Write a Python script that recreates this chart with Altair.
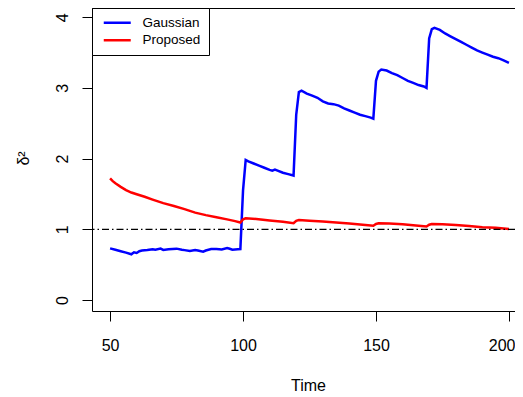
import altair as alt
import pandas as pd

# ---- data ----
gauss_t = [50, 52, 54, 56, 58, 59, 60, 61, 62, 64, 66, 67, 69, 70, 72, 75, 77, 78, 80, 82, 83, 85, 86, 88, 90, 92, 94, 95, 96, 98, 99,
           100, 101, 102, 104, 106, 108, 110, 111, 112, 113, 115, 117, 119,
           120, 121, 122, 124, 126, 128, 130, 132, 134, 136, 138, 140, 142, 144, 146, 148, 149,
           150, 151, 152, 154, 156, 158, 160, 162, 164, 166, 168, 169,
           170, 171, 172, 174, 176, 178, 180, 182, 184, 186, 188, 190, 192, 194, 196, 198, 200]
gauss_v = [0.73, 0.71, 0.69, 0.67, 0.646, 0.674, 0.665, 0.69, 0.70, 0.707, 0.717, 0.71, 0.726, 0.707, 0.717, 0.726, 0.71, 0.705, 0.693, 0.707, 0.70, 0.684, 0.70, 0.721, 0.721, 0.715, 0.735, 0.725, 0.712, 0.717, 0.72,
           1.55, 1.98, 1.96, 1.93, 1.90, 1.87, 1.84, 1.83, 1.845, 1.83, 1.80, 1.78, 1.76,
           2.62, 2.94, 2.96, 2.92, 2.89, 2.86, 2.81, 2.78, 2.77, 2.75, 2.71, 2.68, 2.65, 2.62, 2.60, 2.58, 2.565,
           3.10, 3.23, 3.26, 3.245, 3.21, 3.18, 3.14, 3.10, 3.07, 3.04, 3.02, 3.00,
           3.70, 3.83, 3.85, 3.82, 3.77, 3.73, 3.69, 3.65, 3.61, 3.57, 3.53, 3.50, 3.47, 3.44, 3.42, 3.39, 3.355]

prop_t = [50, 51, 52, 54, 56, 58, 60, 63, 66, 70, 74, 78, 82, 86, 90, 94, 97, 99,
          100, 101, 105, 110, 115, 119,
          120, 121, 125, 130, 135, 140, 145, 149,
          150, 151, 155, 160, 165, 169,
          170, 171, 175, 180, 185, 190, 195, 200]
prop_v = [1.72, 1.68, 1.65, 1.60, 1.555, 1.52, 1.495, 1.46, 1.42, 1.37, 1.33, 1.285, 1.235, 1.20, 1.17, 1.14, 1.115, 1.095,
          1.14, 1.155, 1.145, 1.125, 1.105, 1.085,
          1.12, 1.13, 1.12, 1.11, 1.095, 1.08, 1.065, 1.05,
          1.075, 1.085, 1.08, 1.07, 1.055, 1.04,
          1.065, 1.075, 1.07, 1.06, 1.045, 1.03, 1.02, 1.005]

series_names = ["Gaussian", "Proposed"]
series_colors = ["#0000FF", "#FF0000"]
x_ticks = [50, 100, 150, 200]
y_ticks = [0, 1, 2, 3, 4]
ref_level = [1]

df = pd.concat([
    pd.DataFrame({"Time": gauss_t, "value": gauss_v, "series": series_names[0]}),
    pd.DataFrame({"Time": prop_t, "value": prop_v, "series": series_names[1]}),
], ignore_index=True)

FONT = "Liberation Sans"
xscale = alt.Scale(domain=[43.2, 202.28], nice=False, zero=False)
yscale = alt.Scale(domain=[-0.156, 4.13], nice=False, zero=False)

x_axis = alt.Axis(values=x_ticks, title="Time", grid=False, format="d", labelFont=FONT, labelFontSize=16,
                  labelColor="black", tickColor="black", domainColor="black", tickSize=10,
                  labelPadding=29, labelBaseline="alphabetic", labelFlush=8, labelFlushOffset=6,
                  labelOverlap=False,
                  titleFont=FONT, titleFontSize=16, titleFontWeight="normal", titleColor="black",
                  titleX=216, titleY=79, titleBaseline="alphabetic", titleAlign="center")
y_axis = alt.Axis(values=y_ticks, title="δ²", grid=False, format="d", labelFont=FONT, labelFontSize=16,
                  labelColor="black", tickColor="black", domainColor="black", tickSize=10,
                  labelAngle=270, labelAlign="center", labelBaseline="alphabetic", labelPadding=15,
                  labelOverlap=False, labelFlush=False,
                  titleFont=FONT, titleFontSize=16, titleFontWeight="normal", titleColor="black",
                  titleAngle=270, titleX=-64, titleY=150, titleBaseline="alphabetic", titleAlign="center")

lines = alt.Chart(df).mark_line(strokeWidth=2.5, clip=True).encode(
    x=alt.X("Time:Q", scale=xscale, axis=x_axis),
    y=alt.Y("value:Q", scale=yscale, axis=y_axis),
    color=alt.Color("series:N",
                    scale=alt.Scale(domain=series_names, range=series_colors),
                    legend=alt.Legend(title=None, orient="none", legendX=0, legendY=0,
                                      symbolType="M-3,0L3,0", symbolSize=81, symbolStrokeWidth=2.5,
                                      symbolOffset=10.5,
                                      labelFont=FONT, labelFontSize=13.5, labelColor="black",
                                      labelOffset=18.5, padding=8, rowPadding=2.5,
                                      strokeColor="black", fillColor="white", cornerRadius=0)),
)

ref = alt.Chart(pd.DataFrame({"value": ref_level})).mark_rule(
    color="black", strokeWidth=1.3, strokeDash=[7, 3, 1.5, 3]
).encode(y="value:Q")

top_border = alt.Chart(pd.DataFrame({"value": [0]})).mark_rule(
    color="black", strokeWidth=1
).encode(y=alt.value(0.5))

chart = alt.layer(lines, ref, top_border).properties(
    width=423, height=303,
    padding={"left": 84, "top": 0, "right": 0, "bottom": 86},
    autosize=alt.AutoSizeParams(type="none"),
).configure_view(stroke=None)

chart.save("out.html", embed_options={"renderer": "svg", "actions": False})
